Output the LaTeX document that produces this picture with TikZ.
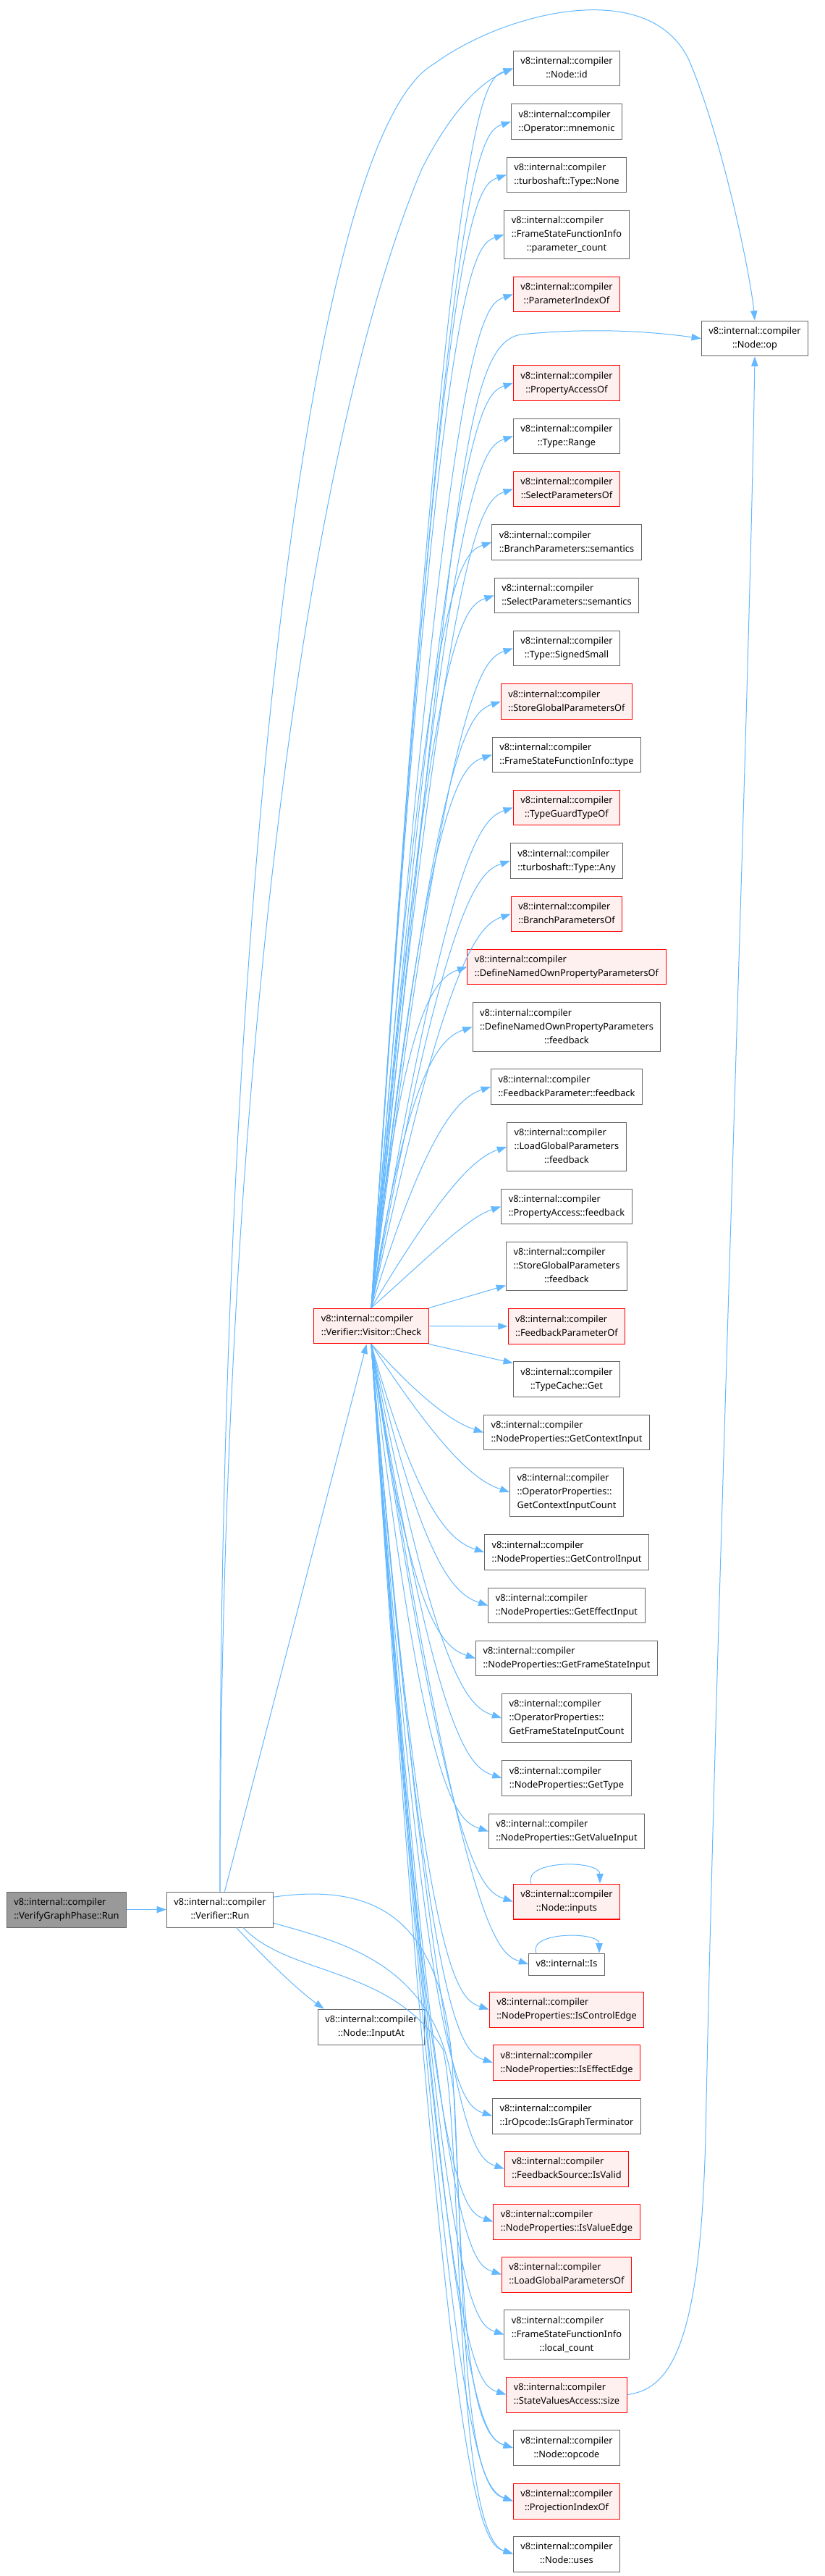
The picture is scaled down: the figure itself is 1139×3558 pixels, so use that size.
\documentclass[tikz,border=0pt]{standalone}
\usepackage{fontspec}
\setmainfont{Noto Sans}
\usetikzlibrary{arrows.meta,calc}

\definecolor{edgeblue}{HTML}{63B8FF}
\definecolor{boxgray}{HTML}{666666}
\definecolor{redfill}{HTML}{FFF0F0}
\definecolor{rootfill}{HTML}{999999}

% all lines but the last left aligned, the last one centred
\newcommand{\fnlabel}[2]{\begin{tabular}{@{}l@{}}#1\\\multicolumn{1}{@{}c@{}}{#2}\end{tabular}}
\newcommand{\fnone}[1]{\begin{tabular}{@{}c@{}}#1\end{tabular}}

\tikzset{
  fn/.style={draw=boxgray, fill=white, line width=0.75pt, inner xsep=7.5pt, inner ysep=4.1pt},
  fnred/.style={fn, draw=red, fill=redfill},
  fnroot/.style={fn, fill=rootfill},
  callarrow/.style={draw=edgeblue, line width=0.75pt, -{Triangle[length=10pt,width=7pt]}},
}

\begin{document}
\begin{tikzpicture}[x=0.75pt, y=-0.75pt, font=\fontsize{9.6}{14.25}\selectfont]
  \fill[white] (0,0) rectangle (1139,3558);
  \useasboundingbox (0,0) rectangle (1139,3558);

  % callers
  \node[fnroot] (vgp) at (92,2637.5) {\fnlabel{v8::internal::compiler}{::VerifyGraphPhase::Run}};
  \node[fn] (run) at (304,2637.5) {\fnlabel{v8::internal::compiler}{::Verifier::Run}};
  \node[fnred] (chk) at (513,1831.5) {\fnlabel{v8::internal::compiler}{::Verifier::Visitor::Check}};
  \node[fn] (inputat) at (513,2799.5) {\fnlabel{v8::internal::compiler}{::Node::InputAt}};
  \node[fn] (op) at (1043,467.5) {\fnlabel{v8::internal::compiler}{::Node::op}};

  % callees of Check
  \node[fn] (id) at (783,94.5) {\fnlabel{v8::internal::compiler}{::Node::id}};
  \node[fn] (mnemonic) at (783,168) {\fnlabel{v8::internal::compiler}{::Operator::mnemonic}};
  \node[fn] (tnone) at (783,241.5) {\fnlabel{v8::internal::compiler}{::turboshaft::Type::None}};
  \node[fn] (paramcount) at (783,324) {\fnlabel{v8::internal::compiler\\::FrameStateFunctionInfo}{::parameter\_count}};
  \node[fnred] (paramidx) at (783,406.5) {\fnlabel{v8::internal::compiler}{::ParameterIndexOf}};
  \node[fnred] (propaccof) at (783,529) {\fnlabel{v8::internal::compiler}{::PropertyAccessOf}};
  \node[fn] (range) at (783,602.5) {\fnlabel{v8::internal::compiler}{::Type::Range}};
  \node[fnred] (selparof) at (783,675.5) {\fnlabel{v8::internal::compiler}{::SelectParametersOf}};
  \node[fn] (brsem) at (783,749) {\fnlabel{v8::internal::compiler}{::BranchParameters::semantics}};
  \node[fn] (selsem) at (783,822.5) {\fnlabel{v8::internal::compiler}{::SelectParameters::semantics}};
  \node[fn] (signedsmall) at (783,895.5) {\fnlabel{v8::internal::compiler}{::Type::SignedSmall}};
  \node[fnred] (sgpof) at (783,969) {\fnlabel{v8::internal::compiler}{::StoreGlobalParametersOf}};
  \node[fn] (fsfitype) at (783,1042.5) {\fnlabel{v8::internal::compiler}{::FrameStateFunctionInfo::type}};
  \node[fnred] (tgto) at (783,1115.5) {\fnlabel{v8::internal::compiler}{::TypeGuardTypeOf}};
  \node[fn] (tany) at (783,1189) {\fnlabel{v8::internal::compiler}{::turboshaft::Type::Any}};
  \node[fnred] (brpof) at (783,1262.5) {\fnlabel{v8::internal::compiler}{::BranchParametersOf}};
  \node[fnred] (dnopof) at (783,1335.5) {\fnlabel{v8::internal::compiler}{::DefineNamedOwnPropertyParametersOf}};
  \node[fn] (dnopfb) at (783,1418.5) {\fnlabel{v8::internal::compiler\\::DefineNamedOwnPropertyParameters}{::feedback}};
  \node[fn] (fpfb) at (783,1501) {\fnlabel{v8::internal::compiler}{::FeedbackParameter::feedback}};
  \node[fn] (lgpfb) at (783,1584) {\fnlabel{v8::internal::compiler\\::LoadGlobalParameters}{::feedback}};
  \node[fn] (pafb) at (783,1666.5) {\fnlabel{v8::internal::compiler}{::PropertyAccess::feedback}};
  \node[fn] (sgpfb) at (783,1749) {\fnlabel{v8::internal::compiler\\::StoreGlobalParameters}{::feedback}};
  \node[fnred] (fpof) at (783,1832) {\fnlabel{v8::internal::compiler}{::FeedbackParameterOf}};
  \node[fn] (tcget) at (783,1905) {\fnlabel{v8::internal::compiler}{::TypeCache::Get}};
  \node[fn] (getctx) at (783,1978.5) {\fnlabel{v8::internal::compiler}{::NodeProperties::GetContextInput}};
  \node[fn] (getctxcnt) at (783,2061) {\fnlabel{v8::internal::compiler\\::OperatorProperties::}{GetContextInputCount}};
  \node[fn] (getctrl) at (783,2144) {\fnlabel{v8::internal::compiler}{::NodeProperties::GetControlInput}};
  \node[fn] (geteff) at (783,2217.5) {\fnlabel{v8::internal::compiler}{::NodeProperties::GetEffectInput}};
  \node[fn] (getfs) at (783,2290.5) {\fnlabel{v8::internal::compiler}{::NodeProperties::GetFrameStateInput}};
  \node[fn] (getfscnt) at (783,2373) {\fnlabel{v8::internal::compiler\\::OperatorProperties::}{GetFrameStateInputCount}};
  \node[fn] (gettype) at (783,2456) {\fnlabel{v8::internal::compiler}{::NodeProperties::GetType}};
  \node[fn] (getval) at (783,2529.5) {\fnlabel{v8::internal::compiler}{::NodeProperties::GetValueInput}};
  \node[fnred] (inputs) at (783,2626.5) {\fnlabel{v8::internal::compiler}{::Node::inputs}};
  \node[fn] (is) at (783,2713) {\fnone{v8::internal::Is}};
  \node[fnred] (isctrl) at (783,2775.5) {\fnlabel{v8::internal::compiler}{::NodeProperties::IsControlEdge}};
  \node[fnred] (iseff) at (783,2849) {\fnlabel{v8::internal::compiler}{::NodeProperties::IsEffectEdge}};
  \node[fn] (isterm) at (783,2922.5) {\fnlabel{v8::internal::compiler}{::IrOpcode::IsGraphTerminator}};
  \node[fnred] (isvalid) at (783,2995.5) {\fnlabel{v8::internal::compiler}{::FeedbackSource::IsValid}};
  \node[fnred] (isvalue) at (783,3068.5) {\fnlabel{v8::internal::compiler}{::NodeProperties::IsValueEdge}};
  \node[fnred] (lgpof) at (783,3141.5) {\fnlabel{v8::internal::compiler}{::LoadGlobalParametersOf}};
  \node[fn] (localcnt) at (783,3224.5) {\fnlabel{v8::internal::compiler\\::FrameStateFunctionInfo}{::local\_count}};
  \node[fnred] (svasize) at (783,3307.5) {\fnlabel{v8::internal::compiler}{::StateValuesAccess::size}};
  \node[fn] (opcode) at (783,3381) {\fnlabel{v8::internal::compiler}{::Node::opcode}};
  \node[fnred] (projidx) at (783,3454.5) {\fnlabel{v8::internal::compiler}{::ProjectionIndexOf}};
  \node[fn] (uses) at (783,3527.5) {\fnlabel{v8::internal::compiler}{::Node::uses}};

  % calls of the phase and of Verifier::Run
  \draw[callarrow] (vgp) -- (run);
  \draw[callarrow] (run) -- (chk);
  \draw[callarrow] ([xshift=17pt]run.south) .. controls (380,2720) and (420,2755) .. ([xshift=-49pt]inputat.north);
  \draw[callarrow] (run.north) .. controls (305,1500) and (420,620) .. (583,233) .. controls (620,160) and (660,115) .. (id.west);
  \draw[callarrow] (run.north) .. controls (300,1300) and (420,190) .. (600,88) .. controls (700,15) and (905,-35) .. (955,90) .. controls (1000,200) and (1037,380) .. (op.north);
  \draw[callarrow] ([yshift=13pt]run.east) .. controls (520,2600) and (610,2650) .. (625,2850) .. controls (640,3150) and (640,3360) .. (opcode.west);
  \draw[callarrow] ([yshift=-14pt]run.east) .. controls (480,2685) and (610,2715) .. (628,2900) .. controls (642,3200) and (640,3430) .. (projidx.west);
  \draw[callarrow] ([xshift=24pt]run.south) .. controls (400,2730) and (540,2715) .. (612,2830) .. controls (640,2950) and (625,3500) .. (uses.west);

  % calls of Check
  \foreach \tgt in {id,mnemonic,tnone,paramcount,paramidx,propaccof,range,selparof,brsem,selsem,
                    signedsmall,sgpof,fsfitype,tgto,tany,brpof,dnopof,dnopfb,fpfb,lgpfb,pafb}
    \draw[callarrow] (chk.north) .. controls ($(\tgt.west)+(-90,60)$) and ($(\tgt.west)+(-45,15)$) .. (\tgt.west);
  \foreach \tgt in {getctx,getctxcnt,getctrl,geteff,getfs,getfscnt,gettype,getval,inputs,is,isctrl,
                    iseff,isterm,isvalid,isvalue,lgpof,localcnt,svasize,opcode,projidx,uses}
    \draw[callarrow] (chk.south) .. controls ($(\tgt.west)+(-90,-50)$) and ($(\tgt.west)+(-45,-15)$) .. (\tgt.west);
  \draw[callarrow] (chk.north) .. controls (630,700) and (638,475) .. (720,462) .. controls (820,452) and (900,458) .. (op.west);
  \draw[callarrow] (chk.north east) -- ([yshift=6pt]sgpfb.south west);
  \draw[callarrow] (chk) -- (fpof);
  \draw[callarrow] (chk.south east) -- ([yshift=-2pt]tcget.north west);

  % recursive calls and the call back to Node::op
  \draw[callarrow] ($(inputs.north)+(-49,0)$) .. controls +(-12,-33) and +(0,-33) .. ($(inputs.north)+(46,0)$);
  \draw[callarrow] ($(is.north)+(-42,0)$) .. controls +(-12,-30) and +(0,-30) .. ($(is.north)+(45,0)$);
  \draw[callarrow] (svasize.east) .. controls (930,3300) and (968,3230) .. (975,2950) .. controls (990,2200) and (1035,1000) .. (op.south);
\end{tikzpicture}
\end{document}
